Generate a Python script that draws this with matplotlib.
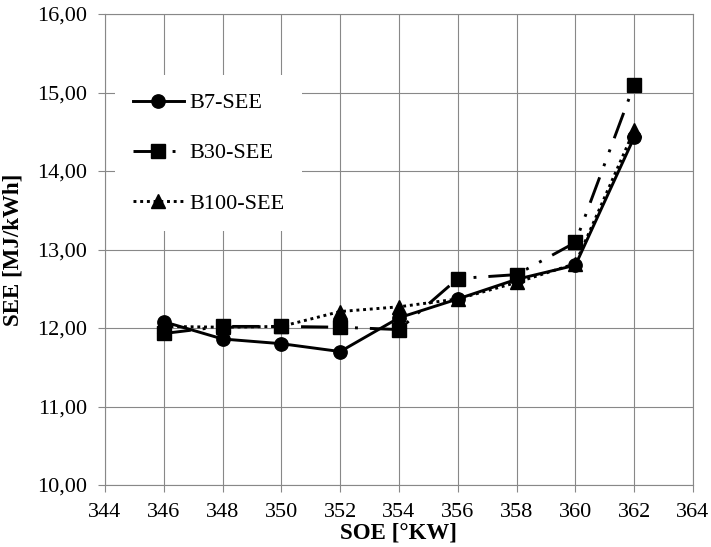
import matplotlib
matplotlib.use("Agg")
import matplotlib.pyplot as plt
from matplotlib.ticker import FuncFormatter

# dados
soe = [346, 348, 350, 352, 354, 356, 358, 360, 362]
b7_see = [12.08, 11.86, 11.80, 11.70, 12.13, 12.37, 12.62, 12.80, 14.43]
b30_see = [11.93, 12.02, 12.02, 12.01, 11.98, 12.63, 12.68, 13.09, 15.10]
b100_see = [12.02, 12.01, 12.02, 12.21, 12.27, 12.37, 12.58, 12.82, 14.52]

x_ticks = list(range(344, 365, 2))
y_ticks = [10, 11, 12, 13, 14, 15, 16]

GRID = "#888888"
plt.rcParams["font.family"] = ["Liberation Serif", "DejaVu Serif"]

fig = plt.figure(figsize=(7.11, 5.47), dpi=100)
ax = fig.add_axes([105 / 711, 62 / 547, 588 / 711, 471 / 547])

lw = 2.1
ax.plot(soe, b7_see, color="black", lw=lw, marker="o", ms=9.6,
        label="B7-SEE", zorder=5)
ax.plot(soe, b30_see, color="black", lw=lw, marker="s", ms=10.5,
        linestyle=(0, (9.3, 4.1, 1, 4.1, 1, 4.1)),
        label="B30-SEE", zorder=4)
ax.plot(soe, b100_see, color="black", lw=lw, marker="^", ms=10.5,
        linestyle=(0, (1, 1.3)), label="B100-SEE", zorder=3)

ax.set_xlim(344, 364)
ax.set_ylim(10, 16)
ax.set_xticks(x_ticks)
ax.set_yticks(y_ticks)
ax.yaxis.set_major_formatter(FuncFormatter(lambda v, p: f"{v:.2f}".replace(".", ",")))
ax.grid(True, color=GRID, lw=0.8)
ax.set_axisbelow(True)
for s in ax.spines.values():
    s.set_color(GRID)
    s.set_linewidth(0.8)
ax.tick_params(direction="out", length=5, width=0.8, color=GRID,
               labelsize=16, pad=8, labelcolor="black")

ax.set_xlabel("SOE [°KW]", fontsize=16.5, fontweight="bold", labelpad=0)
ax.set_ylabel("SEE [MJ/kWh]", fontsize=16.5, fontweight="bold", labelpad=10)

leg = ax.legend(loc="upper left", bbox_to_anchor=(10 / 588, (485 - 75) / 471),
                borderaxespad=0, fontsize=16, frameon=True, fancybox=False,
                framealpha=1, facecolor="white", edgecolor="none",
                handlelength=2.3, handletextpad=0.25, labelspacing=1.33,
                borderpad=0.8)

fig.savefig("out.png", dpi=100)
